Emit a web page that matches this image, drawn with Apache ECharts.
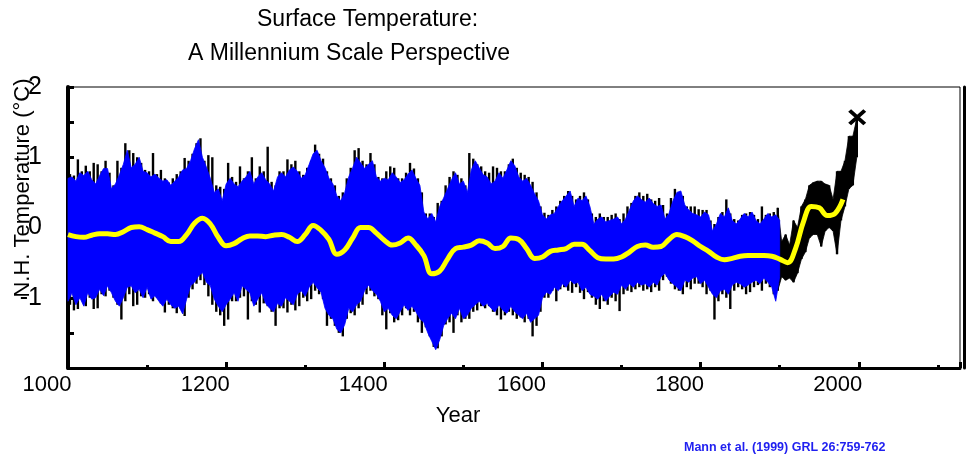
<!DOCTYPE html>
<html><head><meta charset="utf-8">
<script src="https://cdn.jsdelivr.net/npm/echarts@6/dist/echarts.min.js"></script>
<style>html,body{margin:0;padding:0;background:#fff}#c{width:968px;height:462px}</style>
</head><body><div id="c"></div>
<script>
// Blue reconstruction envelope, 1000-1900 every 5 years
const blueStart = 1000, blueStep = 5;
const blueHi = [
0.7,0.72,0.66,0.78,0.74,0.8,0.68,0.62,0.74,0.84,
0.84,0.55,0.62,0.75,0.9,1.1,0.85,0.9,1.0,0.8,
0.78,0.72,0.76,0.7,0.66,0.68,0.6,0.66,0.72,0.82,
0.84,0.95,1.12,1.25,1.0,0.86,0.7,0.5,0.55,0.38,
0.62,0.7,0.62,0.58,0.66,0.72,0.8,0.62,0.72,0.78,
0.68,0.62,0.52,0.72,0.78,0.72,0.82,0.86,0.8,0.7,
0.75,0.9,1.05,1.1,0.95,0.85,0.7,0.62,0.45,0.38,
0.5,0.72,0.85,1.0,0.92,0.84,0.9,0.95,0.72,0.66,
0.7,0.68,0.78,0.72,0.64,0.68,0.76,0.82,0.7,0.6,
0.22,0.12,0.2,0.08,0.3,0.42,0.55,0.68,0.78,0.62,
0.66,0.5,0.82,0.95,0.85,0.75,0.72,0.62,0.66,0.78,
0.7,0.82,0.95,0.88,0.72,0.66,0.7,0.6,0.48,0.38,
0.18,0.12,0.18,0.2,0.3,0.38,0.45,0.52,0.3,0.42,
0.38,0.45,0.3,0.05,0.12,0.15,0.08,0.1,0.12,0.15,
0.05,0.12,0.25,0.38,0.45,0.4,0.36,0.42,0.34,0.3,
0.32,0.12,0.2,0.38,0.5,0.52,0.32,0.25,0.2,0.18,
0.15,0.22,0.18,-0.05,0.05,0.2,0.15,0.28,0.1,0.05,
0.12,0.2,0.15,0.22,0.1,0.05,0.12,0.2,0.15,0.18,
0.1];
const blueLo = [
-1.05,-0.93,-1.1,-1.0,-1.12,-0.93,-1.02,-1.0,-0.88,-0.97,
-0.83,-0.93,-1.05,-1.12,-1.0,-0.85,-0.83,-0.93,-0.88,-1.0,
-0.85,-1.02,-0.97,-1.05,-1.12,-1.02,-1.1,-1.15,-1.12,-1.23,
-1.02,-0.83,-0.78,-0.69,-0.64,-0.78,-0.83,-1.02,-1.12,-1.2,
-1.1,-1.02,-0.93,-1.05,-0.83,-0.88,-0.93,-1.12,-1.02,-0.93,
-1.08,-1.15,-1.2,-1.08,-1.12,-1.0,-1.05,-1.1,-0.95,-0.9,
-0.98,-0.85,-0.78,-0.86,-0.92,-1.15,-1.25,-1.3,-1.45,-1.5,
-1.38,-1.15,-1.2,-1.1,-1.05,-0.9,-0.82,-0.9,-0.95,-1.05,
-1.2,-1.15,-1.25,-1.3,-1.2,-1.1,-1.18,-1.12,-1.2,-1.3,
-1.35,-1.5,-1.62,-1.74,-1.6,-1.4,-1.3,-1.22,-1.3,-1.15,
-1.3,-1.25,-1.15,-1.1,-1.05,-1.12,-1.08,-1.15,-1.2,-1.1,
-1.18,-1.22,-1.12,-1.2,-1.25,-1.3,-1.22,-1.35,-1.3,-1.25,
-1.0,-0.92,-0.95,-0.85,-0.9,-0.8,-0.85,-0.75,-0.8,-0.78,
-0.9,-0.85,-0.95,-0.98,-1.02,-0.95,-1.05,-0.98,-0.92,-0.95,
-0.82,-0.88,-0.8,-0.85,-0.78,-0.82,-0.8,-0.85,-0.78,-0.82,
-0.7,-0.65,-0.75,-0.8,-0.85,-0.9,-0.75,-0.78,-0.72,-0.7,
-0.8,-0.75,-0.85,-0.95,-1.0,-0.9,-0.88,-0.95,-0.82,-0.78,
-0.8,-0.85,-0.82,-0.78,-0.75,-0.8,-0.72,-0.78,-0.85,-1.05,
-0.7];
// Black series envelope (reconstruction + instrumental), 1002.5-1997.5 every 5 years
const blackStart = 1002.5, blackStep = 5;
const blackHi = [
0.76,0.74,0.97,0.8,0.88,0.8,0.92,0.9,0.8,0.95,
0.78,0.6,0.95,0.85,1.2,1.1,1.06,1.0,0.92,0.82,
0.8,1.06,0.76,0.82,0.7,0.64,0.7,0.76,0.8,0.99,
0.95,1.05,1.2,1.27,0.95,1.03,1.0,0.6,0.58,0.55,
0.92,0.72,0.65,0.87,0.7,0.8,1.0,0.7,0.87,0.8,
1.15,0.65,0.6,0.8,0.8,0.97,0.9,0.95,0.8,0.75,
0.85,0.95,1.18,1.05,0.98,0.8,0.7,0.6,0.45,0.5,
0.7,0.85,1.1,1.13,0.95,0.9,1.06,0.9,0.72,0.7,
0.8,0.87,0.85,0.7,0.7,0.78,0.92,0.84,0.7,0.5,
0.2,0.2,0.15,0.35,0.38,0.6,0.72,0.8,0.75,0.7,
0.6,1.06,0.98,0.9,0.87,0.8,0.78,0.87,0.85,0.8,
0.8,0.9,0.98,0.85,0.78,0.75,0.72,0.65,0.5,0.3,
0.21,0.18,0.25,0.3,0.38,0.45,0.52,0.45,0.4,0.45,
0.5,0.4,0.2,0.15,0.2,0.15,0.15,0.18,0.2,0.12,
0.2,0.3,0.35,0.45,0.5,0.45,0.48,0.4,0.38,0.42,
0.32,0.2,0.42,0.55,0.5,0.45,0.3,0.3,0.3,0.26,
0.25,0.25,0.1,0.05,0.15,0.22,0.4,0.2,0.12,0.1,
0.18,0.2,0.22,0.18,0.12,0.3,0.18,0.2,0.22,0.28,
-0.2,-0.1,-0.25,0.1,0.0,0.3,0.4,0.6,0.64,0.66,
0.66,0.62,0.6,0.4,0.8,0.8,0.95,1.3,1.3,1.55];
const blackLo = [
-1.1,-1.18,-1.16,-1.0,-1.12,-1.0,-1.16,-1.15,-0.95,-0.98,
-0.9,-1.0,-1.1,-1.31,-1.05,-0.95,-1.12,-1.1,-0.98,-1.0,
-0.95,-1.05,-1.0,-1.08,-1.21,-1.1,-1.15,-1.22,-1.15,-1.26,
-1.0,-0.88,-0.8,-0.75,-0.82,-0.98,-1.1,-1.2,-1.25,-1.4,
-1.31,-1.05,-1.05,-1.0,-0.98,-1.31,-1.05,-1.1,-1.21,-1.08,
-1.12,-1.2,-1.4,-1.15,-1.15,-1.21,-1.1,-1.18,-1.12,-1.0,
-1.05,-1.02,-0.9,-0.95,-1.02,-1.4,-1.3,-1.4,-1.5,-1.55,
-1.3,-1.22,-1.25,-1.15,-1.1,-0.95,-0.9,-0.98,-1.02,-1.25,
-1.45,-1.22,-1.35,-1.32,-1.25,-1.15,-1.25,-1.2,-1.35,-1.5,
-1.42,-1.55,-1.7,-1.72,-1.55,-1.38,-1.35,-1.5,-1.25,-1.35,
-1.3,-1.3,-1.2,-1.18,-1.12,-1.15,-1.12,-1.2,-1.25,-1.31,
-1.25,-1.2,-1.25,-1.3,-1.28,-1.35,-1.3,-1.55,-1.4,-1.2,
-1.0,-1.0,-0.9,-1.05,-0.88,-0.85,-0.9,-0.93,-0.85,-0.93,
-1.02,-0.92,-1.0,-1.1,-1.16,-1.05,-1.1,-1.0,-1.05,-1.19,
-0.95,-0.9,-0.92,-0.88,-0.85,-0.9,-0.88,-0.92,-0.85,-0.9,
-0.75,-0.7,-0.8,-0.88,-0.9,-0.95,-0.85,-0.88,-0.8,-0.8,
-0.85,-0.95,-0.9,-1.31,-1.05,-0.95,-1.0,-1.16,-0.9,-0.85,
-0.88,-0.95,-0.92,-0.85,-0.82,-0.9,-0.8,-0.85,-0.95,-0.9,
-0.7,-0.75,-0.72,-0.78,-0.65,-0.45,-0.35,-0.15,-0.1,-0.1,
-0.27,-0.05,0.0,-0.05,-0.38,0.1,0.3,0.55,0.6,1.0];
// Smoothed (yellow) curve, 1000-1980 every 10 years
const smoothStart = 1000, smoothStep = 10;
const smoothVals = [
-0.1,-0.13,-0.14,-0.11,-0.09,-0.09,-0.1,-0.06,0.0,0.01,
-0.03,-0.08,-0.13,-0.2,-0.2,-0.1,0.06,0.13,0.05,-0.14,
-0.26,-0.23,-0.16,-0.12,-0.12,-0.13,-0.11,-0.1,-0.14,-0.2,
-0.1,0.03,-0.04,-0.17,-0.38,-0.32,-0.15,0.0,0.0,-0.08,
-0.18,-0.25,-0.22,-0.15,-0.25,-0.4,-0.66,-0.62,-0.45,-0.3,
-0.28,-0.25,-0.19,-0.22,-0.3,-0.27,-0.15,-0.17,-0.3,-0.44,
-0.42,-0.34,-0.32,-0.3,-0.24,-0.24,-0.33,-0.43,-0.45,-0.45,
-0.42,-0.35,-0.27,-0.25,-0.28,-0.27,-0.17,-0.1,-0.13,-0.19,
-0.27,-0.34,-0.42,-0.46,-0.44,-0.41,-0.4,-0.4,-0.4,-0.41,
-0.45,-0.5,-0.3,0.08,0.3,0.28,0.17,0.2,0.4];
const markerYear = 1998, markerValue = 1.57;
const xMin = 1000, xMax = 2128, xInterval = 200;
const yMin = -2, yMax = 2, yInterval = 0.5;
const titleLine1 = 'Surface Temperature:';
const titleLine2 = 'A Millennium Scale Perspective';
const xName = 'Year';
const yName = 'N.H. Temperature (°C)';
const credit = 'Mann et al. (1999) GRL 26:759-762';

function pts(start, st, arr){ return arr.map((v,i)=>[start+st*i, v]); }
function band(start, st, lo, hi){ return lo.map((v,i)=>[start+st*i, v, hi[i]]); }
const blueEnd = blueStart + blueStep * (blueHi.length - 1);

// Filled band polygon through the axis scales (api.coord), from year `from` on
function bandPolygon(api, n, from, color){
  const top = [], bot = [];
  for (let i = 0; i < n; i++) {
    const x = api.value(0, i);
    if (x < from) continue;
    top.push(api.coord([x, api.value(2, i)]));
    bot.push(api.coord([x, api.value(1, i)]));
  }
  return {type:'polygon', shape:{points:top.concat(bot.reverse())}, style:{fill:color, stroke:color, lineWidth:0.8}};
}
function blueRender(params, api){
  if (params.dataIndexInside !== 0) return null;
  return bandPolygon(api, params.dataInsideLength, -Infinity, '#0000ff');
}
// Black series: vertical low-high strokes per sample, filled where blue is absent
function blackRender(params, api){
  const x = api.value(0);
  const p1 = api.coord([x, api.value(1)]);
  const p2 = api.coord([x, api.value(2)]);
  const stroke = {type:'line', shape:{x1:p1[0], y1:p1[1], x2:p2[0], y2:p2[1]}, style:{stroke:'#000', lineWidth:2.4}};
  if (params.dataIndexInside !== 0) return stroke;
  return {type:'group', children:[bandPolygon(api, params.dataInsideLength, blueEnd - blackStep, '#000'), stroke]};
}

const FF = 'Liberation Sans, Arial, sans-serif';
const chart = echarts.init(document.getElementById('c'), null, {renderer:'canvas'});
chart.setOption({
  animation:false,
  backgroundColor:'#fff',
  title:[
    {text:titleLine1, left:257, top:8, padding:0, textStyle:{fontSize:23, fontWeight:'normal', fontFamily:FF, color:'#000'}},
    {text:titleLine2, left:188, top:42, padding:0, textStyle:{fontSize:23, fontWeight:'normal', fontFamily:FF, color:'#000'}},
    {text:credit, left:684, top:441, padding:0, textStyle:{fontSize:12.5, fontWeight:'bold', fontFamily:FF, color:'#1f1ff0'}}
  ],
  grid:{left:68, right:8, top:87, bottom:94, show:true, borderColor:'#000', borderWidth:1,
        backgroundColor:'transparent', outerBoundsMode:'none', containLabel:false},
  xAxis:{
    type:'value', min:xMin, max:xMax, interval:xInterval,
    name:xName, nameLocation:'middle', nameGap:37, nameMoveOverlap:false,
    nameTextStyle:{fontSize:22, fontFamily:FF, color:'#000', padding:[0,112,0,0]},
    axisLine:{show:true, onZero:false, lineStyle:{color:'#000', width:3}},
    axisTick:{show:true, inside:true, length:6, lineStyle:{color:'#000', width:3}},
    minorTick:{show:true, splitNumber:2, length:3, lineStyle:{color:'#000', width:3}},
    axisLabel:{fontSize:22, fontFamily:FF, color:'#000', margin:6, padding:[0,42,0,0], showMaxLabel:false, formatter:v=>String(v)},
    splitLine:{show:false}, minorSplitLine:{show:false}
  },
  yAxis:[{
    type:'value', min:yMin, max:yMax, interval:yInterval,
    name:yName, nameLocation:'middle', nameGap:34, nameMoveOverlap:false,
    nameTextStyle:{fontSize:22, fontFamily:FF, color:'#000', padding:[0,0,0,79]},
    axisLine:{show:true, onZero:false, lineStyle:{color:'#000', width:4}},
    axisTick:{show:true, inside:true, length:6, lineStyle:{color:'#000', width:3}},
    axisLabel:{fontSize:25, fontFamily:FF, color:'#000', margin:26,
      formatter:v=>(Math.abs(v-Math.round(v))<1e-9 && v>yMin) ? String(Math.round(v)) : ''},
    splitLine:{show:false}
  },{
    type:'value', min:yMin, max:yMax, position:'right', offset:4,
    axisLine:{show:true, onZero:false, lineStyle:{color:'#000', width:3}},
    axisTick:{show:false}, axisLabel:{show:false}, splitLine:{show:false}
  }],
  series:[
    {type:'custom', data:band(blackStart, blackStep, blackLo, blackHi), encode:{x:0, y:[1,2]},
      renderItem:blackRender, silent:true, z:1},
    {type:'custom', data:band(blueStart, blueStep, blueLo, blueHi), encode:{x:0, y:[1,2]},
      renderItem:blueRender, silent:true, z:2},
    {type:'line', data:pts(smoothStart, smoothStep, smoothVals), smooth:0.4, symbol:'none',
      lineStyle:{color:'#ffff00', width:5}, silent:true, z:3},
    {type:'scatter', data:[[markerYear, markerValue]], symbol:'path://M0,1.6L1.6,0L10,8.4L8.4,10Z M8.4,0L10,1.6L1.6,10L0,8.4Z',
      symbolSize:[18,16], itemStyle:{color:'#000', opacity:1}, silent:true, z:4}
  ]
});
</script></body></html>
